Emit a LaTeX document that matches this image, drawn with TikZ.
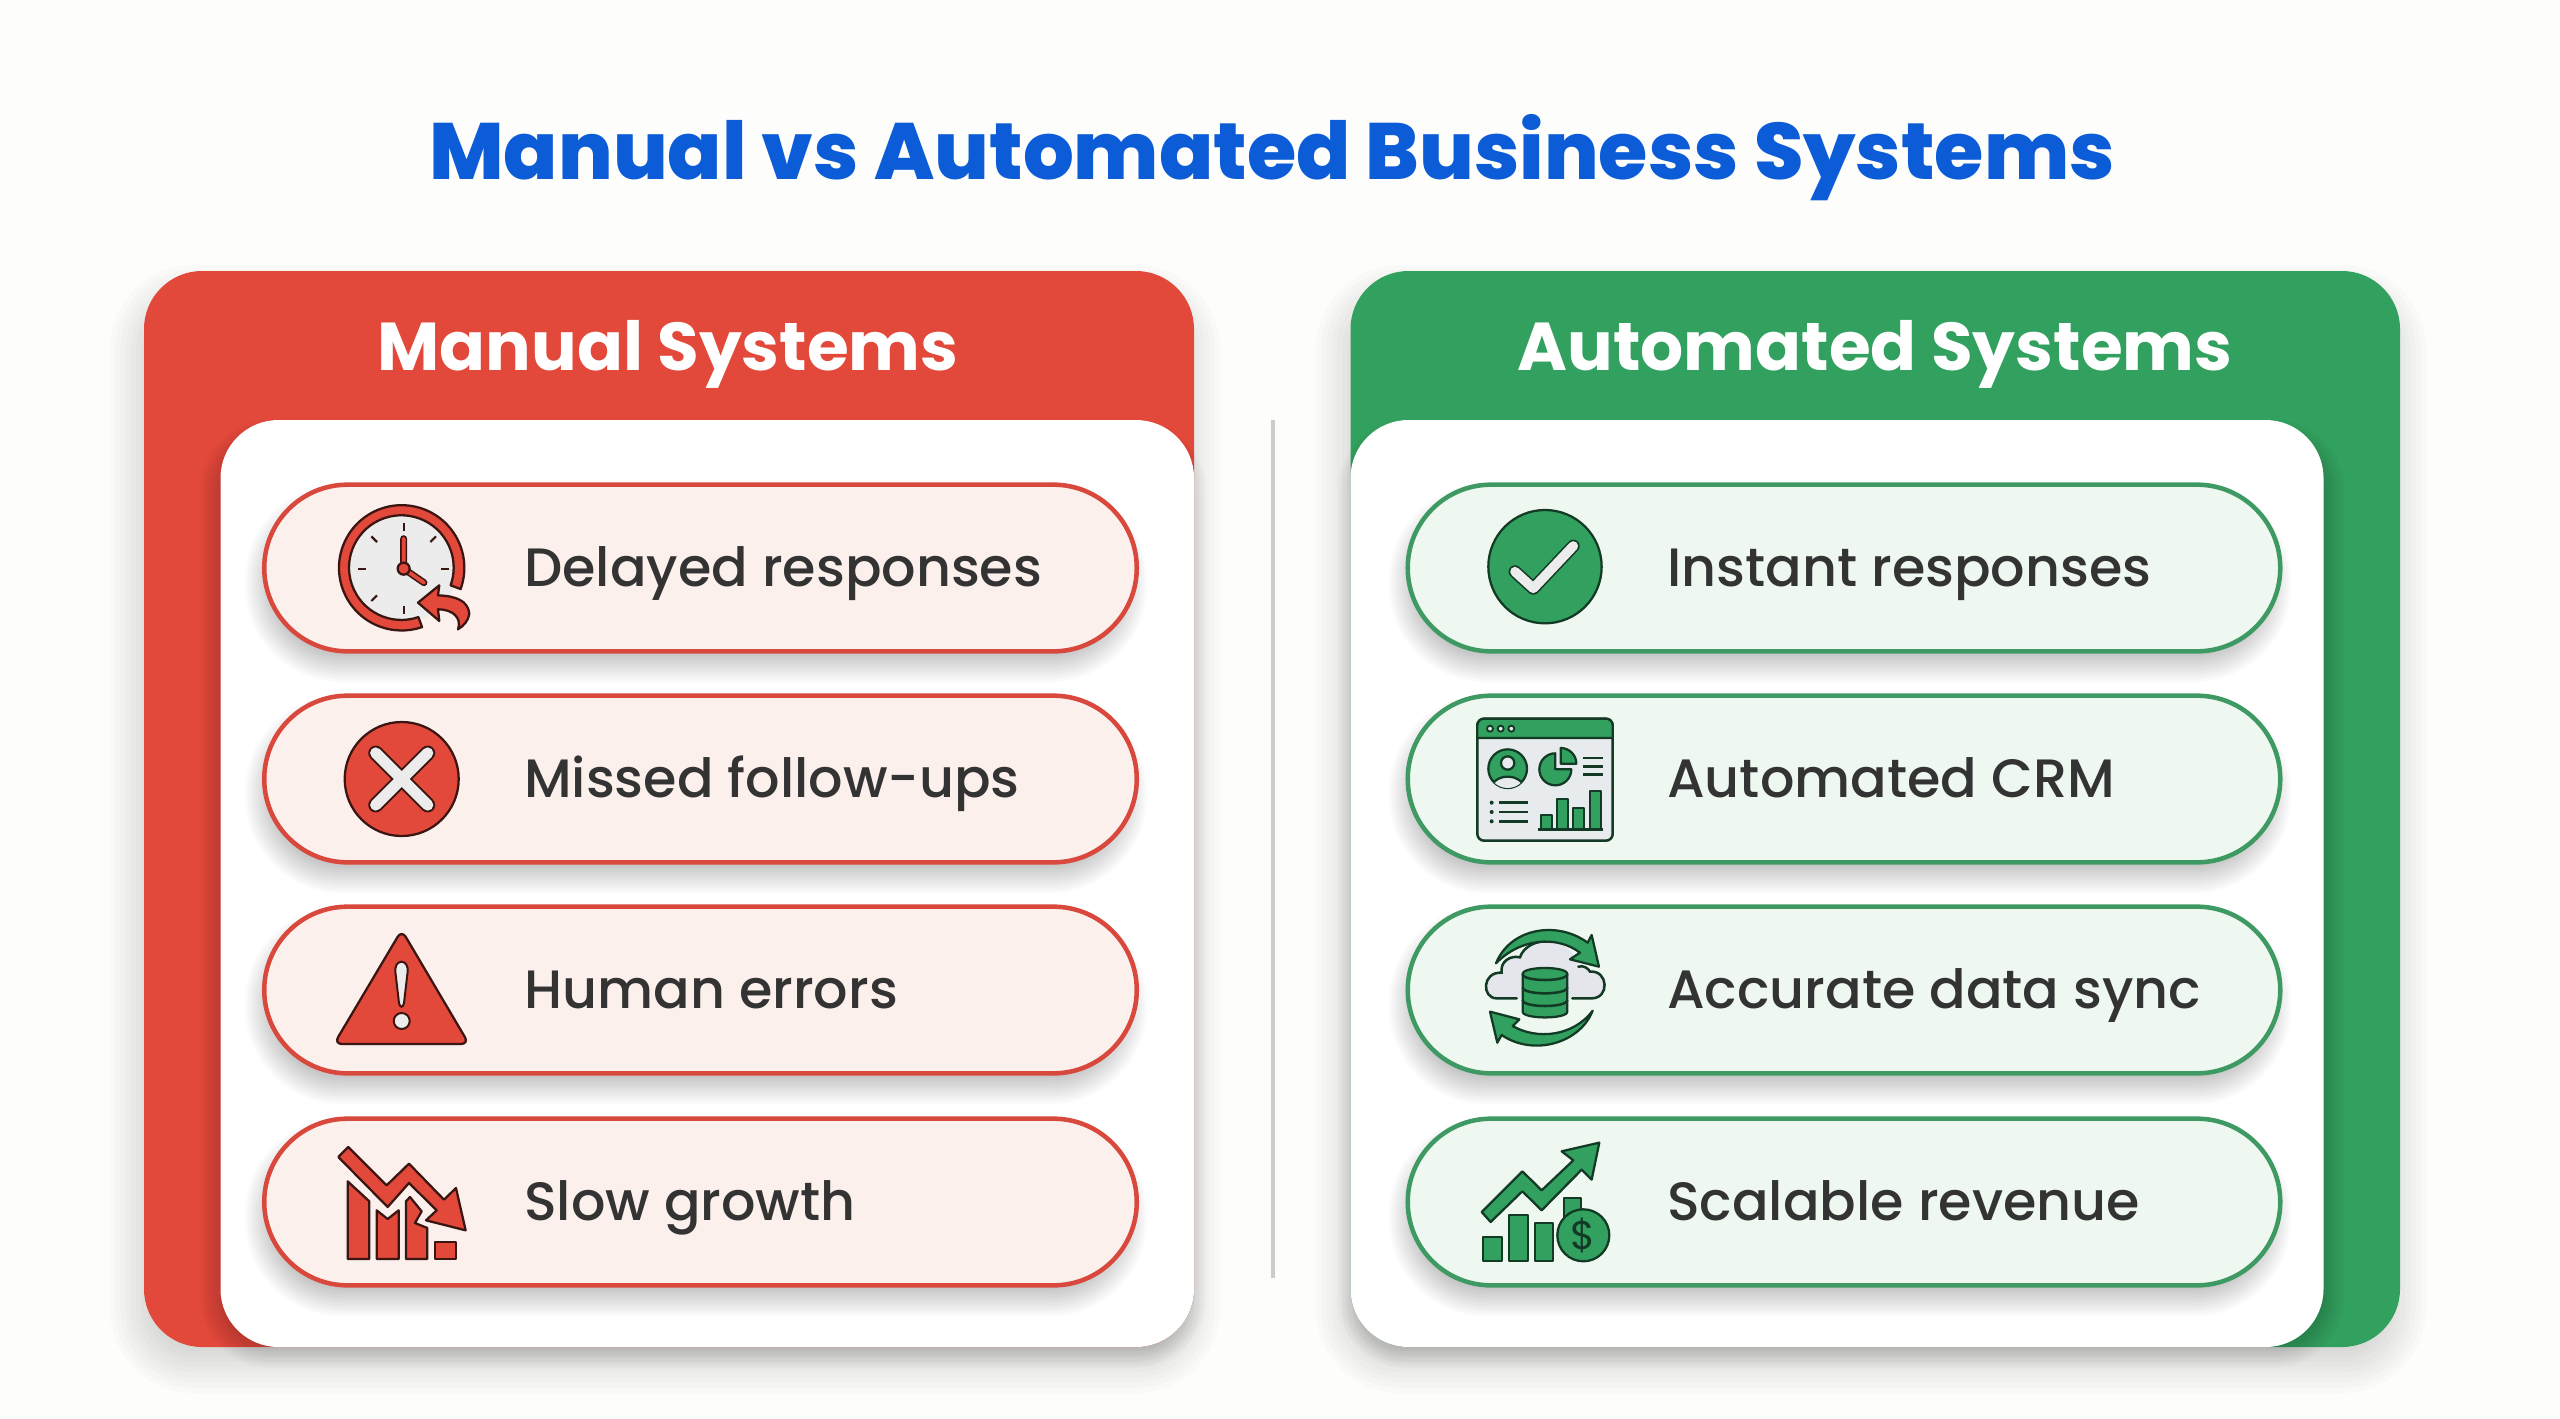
\documentclass[tikz,border=0pt]{standalone}
\usepackage{fontspec}
\setmainfont{Poppins}
\newfontfamily\titlefont{Poppins ExtraBold}
\newfontfamily\labelfont{Poppins Medium}
\definecolor{pagewhite}{HTML}{FDFDFC}
\definecolor{titleblue}{HTML}{0B5CD6}
\definecolor{manualred}{HTML}{E2493A}
\definecolor{autogreen}{HTML}{32A05F}
\definecolor{redpale}{HTML}{FCF0ED}
\definecolor{greenpale}{HTML}{EFF7F1}
\definecolor{redrim}{HTML}{D8483C}
\definecolor{greenrim}{HTML}{3E9A62}
\definecolor{redink}{HTML}{3A1512}
\definecolor{greenink}{HTML}{123A24}
\definecolor{labelink}{HTML}{333333}
\definecolor{facegrey}{HTML}{ECECEC}
\definecolor{windowgrey}{HTML}{E8EBEE}
\definecolor{cloudgrey}{HTML}{E5E6EB}
\newcommand{\softshadow}[7]{%
  \foreach \k in {0,...,10} {
    \pgfmathsetmacro{\g}{#6*(1-\k/5)}
    \pgfmathsetmacro{\rr}{max(#5+\g,1)*0.75}
    \fill[black,opacity=#7,rounded corners=\rr pt] ({#1-\g},{#2-\g}) rectangle ({#3+\g},{#4+\g});
  }
}
\tikzset{
  titletext/.style={anchor=base,inner sep=0pt,text=titleblue,font=\fontsize{59.9}{63}\selectfont\titlefont},
  headtext/.style={anchor=base,inner sep=0pt,text=white,font=\fontsize{50.8}{54}\selectfont\bfseries},
  pilltext/.style={anchor=base west,inner sep=0pt,text=labelink,font=\fontsize{40.5}{44}\selectfont\labelfont},
  pillbase/.style={minimum width=654.4pt,minimum height=125pt,rounded corners=62.5pt,line width=3.4pt,inner sep=0pt},
  redpill/.style={pillbase,draw=redrim,fill=redpale},
  greenpill/.style={pillbase,draw=greenrim,fill=greenpale},
  redicon/.style={fill=manualred,draw=redink,line width=1.7pt,line join=round},
  greenicon/.style={fill=autogreen,draw=greenink,line width=1.7pt,line join=round},
  thingreen/.style={draw=greenink,line width=1.9pt,line cap=round},
}
\begin{document}
\begin{tikzpicture}[x=0.75pt,y=0.75pt,yscale=-1,xscale=1]
    \useasboundingbox (0,0) rectangle (2560,1418);
    \fill[pagewhite] (0,0) rectangle (2560,1418);

    \node[titletext] (title) at (1272,179) {Manual vs Automated Business Systems};

    % left card
    \softshadow{136}{291}{1194}{1367}{58}{26}{0.014}
    \fill[manualred,rounded corners=43.5pt] (144,271) rectangle (1194,1347);
    \softshadow{212}{432}{1194}{1356}{58}{12}{0.014}
    \fill[white,rounded corners=43.5pt] (220.5,420) rectangle (1194,1347);
    \node[headtext] (manualhead) at (668,370) {Manual Systems};

    % right card
    \softshadow{1342}{291}{2400}{1367}{58}{26}{0.014}
    \fill[autogreen,rounded corners=43.5pt] (1350.5,271) rectangle (2400,1347);
    \softshadow{1350}{432}{2332}{1356}{58}{12}{0.014}
    \fill[white,rounded corners=43.5pt] (1350.5,420) rectangle (2323.5,1347);
    \node[headtext] (autohead) at (1875,370) {Automated Systems};

    \draw[draw=black!20,line width=2.6pt] (1273,420) -- (1273,1278);

    \foreach \pname/\py/\ptext in {delayed/567/Delayed responses,missed/778/Missed follow-ups,human/989/Human errors,slow/1201/Slow growth} {
      \softshadow{258}{\py-70}{1134}{\py+102}{84}{13}{0.020}
      \node[redpill] (\pname) at (700.5,\py+1) {};
      \node[pilltext] (\pname text) at (524,\py+19.5) {\ptext};
    }
    \foreach \pname/\py/\ptext in {instant/567/Instant responses,crm/778/Automated CRM,sync/989/Accurate data sync,revenue/1201/Scalable revenue} {
      \softshadow{1402}{\py-70}{2278}{\py+102}{84}{13}{0.020}
      \node[greenpill] (\pname) at (1844,\py+1) {};
      \node[pilltext] (\pname text) at (1667,\py+19.5) {\ptext};
    }

    % clock
    \begin{scope}[shift={(312,492)},scale=0.3333]
      \coordinate (hub) at (275,230);
      \fill[facegrey] (hub) circle (160);
      \foreach \a in {0,45,...,315} \draw[draw=redink,line width=1.6pt] (hub)+(\a:113) -- +(\a:137);
      \draw[redicon] (445.9,291.2) arc[start angle=19.8,end angle=-289,radius=188] -- ++(-11,-30) arc[start angle=-289,end angle=19.8,radius=157] -- cycle;
      \draw[draw=redink,line width=5.2pt,line cap=round] (hub) -- (275,140) (hub) -- (336,272);
      \draw[draw=manualred,line width=2.8pt,line cap=round] (hub) -- (275,140) (hub) -- (336,272);
      \draw[redicon] (hub) circle (18);
      \draw[redicon] (318,332) -- (382,280) -- (378,310) .. controls (430,312) and (468,325) .. (472,365) .. controls (470,385) and (455,402) .. (438,412) .. controls (450,380) and (425,352) .. (378,352) -- (382,387) -- cycle;
    \end{scope}

    % cross
    \draw[redicon] (401.7,779) circle (57);
    \draw[draw=redink,line width=11.2pt,line cap=round] (375.7,753) -- (427.7,805) (427.7,753) -- (375.7,805);
    \draw[draw=facegrey,line width=8.4pt,line cap=round] (375.7,753) -- (427.7,805) (427.7,753) -- (375.7,805);

    % warning
    \draw[redicon,rounded corners=6pt] (401.7,930) -- (469,1044) -- (334,1044) -- cycle;
    \draw[fill=facegrey,draw=redink,line width=1.5pt] (395.5,973) .. controls (393,958) and (410,958) .. (407.5,973) -- (404,1003) .. controls (403,1008) and (400,1008) .. (399,1003) -- cycle;
    \draw[fill=facegrey,draw=redink,line width=1.5pt] (401.7,1021) circle (8);

    % falling chart
    \begin{scope}[shift={(320,1133)},scale=0.3333]
      \draw[redicon] (85,42) -- (200,157) -- (267,92) -- (372,200) -- (408,165) -- (437,292) -- (318,262) -- (350,232) -- (267,150) -- (203,222) -- (55,72) -- cycle;
      \draw[redicon] (83,145) -- (148,205) -- (148,378) -- (83,378) -- cycle;
      \draw[redicon] (170,232) -- (203,258) -- (236,232) -- (236,378) -- (170,378) -- cycle;
      \draw[redicon] (258,205) -- (270,192) -- (305,235) -- (285,270) -- (322,285) -- (322,378) -- (258,378) -- cycle;
      \draw[redicon] (345,328) rectangle (408,378);
    \end{scope}

    % tick
    \begin{scope}[shift={(1360,460)},scale=0.3333]
      \draw[greenicon] (555,320) circle (170);
      \draw[draw=greenink,line width=9.6pt,line cap=round,line join=round] (465,335) -- (520,385) -- (640,258);
      \draw[draw=facegrey,line width=7.2pt,line cap=round,line join=round] (465,335) -- (520,385) -- (640,258);
    \end{scope}

    % crm window
    \begin{scope}[shift={(1470,712)},scale=0.3333]
      \draw[fill=windowgrey,draw=greenink,line width=1.9pt,rounded corners=5pt] (22,20) rectangle (428,386);
      \draw[greenicon] (22,78) -- (22,40) arc[start angle=180,end angle=270,radius=20] -- (408,20) arc[start angle=270,end angle=360,radius=20] -- (428,78) -- cycle;
      \foreach \dx in {60,92,124} \draw[fill=windowgrey,draw=greenink,line width=1.4pt] (\dx,50) circle (9);
      \draw[greenicon] (113,170) circle (58);
      \begin{scope}
        \clip (113,170) circle (58);
        \draw[fill=windowgrey,draw=greenink,line width=1.7pt] (113,232) ellipse (50 and 38);
      \end{scope}
      \draw[fill=windowgrey,draw=greenink,line width=1.7pt] (113,153) circle (20);
      \draw[greenicon] (256,172) -- +(0:48) arc[start angle=0,end angle=270,radius=48] -- cycle;
      \draw[greenicon] (272,155) -- +(-90:47) arc[start angle=-90,end angle=0,radius=47] -- cycle;
      \foreach \ly in {138,163,187} \draw[thingreen,line cap=butt] (340,\ly) -- (398,\ly);
      \foreach \ly in {272,300,328} {
        \fill[greenink] (65,\ly) circle (6);
        \draw[thingreen,line cap=butt] (87,\ly) -- (173,\ly);
      }
      \draw[greenicon] (213,308) rectangle (245,352);
      \draw[greenicon] (262,262) rectangle (294,352);
      \draw[greenicon] (310,287) rectangle (342,352);
      \draw[greenicon] (360,238) rectangle (392,352);
      \draw[thingreen,line cap=butt] (205,352) -- (398,352);
    \end{scope}

    % cloud sync
    \begin{scope}[shift={(1360,900)},scale=0.3333]
      \fill[cloudgrey] (470,295) -- (410,295) .. controls (365,295) and (365,215) .. (425,218) .. controls (420,185) and (450,165) .. (480,172) .. controls (490,140) and (530,120) .. (565,125) .. controls (610,125) and (650,160) .. (655,200) .. controls (670,195) and (685,205) .. (690,215) .. controls (745,210) and (750,295) .. (695,295) -- (637,295) -- cycle;
      \draw[thingreen] (470,295) -- (410,295) .. controls (365,295) and (365,215) .. (425,218) .. controls (420,185) and (450,165) .. (480,172) .. controls (490,140) and (530,120) .. (565,125) (655,200) .. controls (670,195) and (685,205) .. (690,215) .. controls (745,210) and (750,295) .. (695,295) -- (637,295);
      \draw[greenicon] (488,222) -- (488,335) .. controls (488,358) and (622,358) .. (622,335) -- (622,222) .. controls (622,198) and (488,198) .. (488,222) -- cycle;
      \draw[thingreen,line cap=butt] (488,222) .. controls (488,246) and (622,246) .. (622,222);
      \draw[thingreen,line cap=butt] (488,262) .. controls (488,286) and (622,286) .. (622,262);
      \draw[thingreen,line cap=butt] (488,300) .. controls (488,324) and (622,324) .. (622,300);
      \draw[greenicon] (408,190) .. controls (450,85) and (590,60) .. (683,128) -- (695,105) -- (717,200) -- (630,178) -- (660,158) .. controls (590,105) and (480,115) .. (408,190) -- cycle;
      \draw[greenicon] (698,332) .. controls (660,430) and (520,470) .. (425,405) -- (412,428) -- (390,335) -- (478,358) -- (458,378) .. controls (530,420) and (640,410) .. (698,332) -- cycle;
    \end{scope}

    % revenue chart
    \begin{scope}[shift={(1360,902)},scale=0.3333]
      \draw[greenicon] (365,930) -- (487,808) -- (545,865) -- (640,775) -- (605,748) -- (718,722) -- (695,833) -- (665,803) -- (545,925) -- (487,868) -- (392,960) -- cycle;
      \draw[greenicon] (370,1005) rectangle (427,1078);
      \draw[greenicon] (448,940) rectangle (503,1078);
      \draw[greenicon] (525,963) rectangle (580,1078);
      \draw[greenicon] (612,888) rectangle (662,950);
      \draw[greenicon] (670,1000) circle (78);
      \node[inner sep=0pt,text=greenink,font=\fontsize{30}{30}\selectfont] (dollar) at (670,1000) {\$};
    \end{scope}
  \end{tikzpicture}
\end{document}
